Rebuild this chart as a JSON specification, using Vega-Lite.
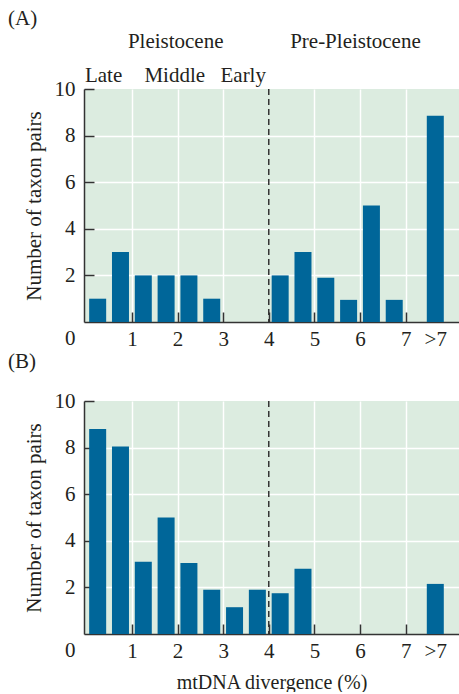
{
  "$schema": "https://vega.github.io/schema/vega-lite/v6.json",
  "background": "white",
  "padding": {"left": 8, "top": 8, "right": 0, "bottom": 0},
  "config": {
    "font": "Liberation Serif",
    "view": {"fill": "#dcece0", "stroke": null},
    "axis": {
      "labelFont": "Liberation Serif",
      "labelFontSize": 21,
      "labelColor": "#231f20",
      "titleFont": "Liberation Serif",
      "titleFontSize": 21,
      "titleFontWeight": "normal",
      "titleColor": "#231f20",
      "domainColor": "#333333",
      "domainWidth": 1.5,
      "tickColor": "#333333",
      "tickWidth": 1.5,
      "tickSize": -10,
      "gridColor": "white",
      "gridWidth": 1.5,
      "gridOpacity": 1
    },
    "title": {
      "font": "Liberation Serif",
      "fontSize": 21,
      "fontWeight": "normal",
      "color": "#231f20",
      "anchor": "start",
      "frame": "group",
      "baseline": "alphabetic"
    }
  },
  "datasets": {
    "panelA": [
      {"divergence": 0.25, "pairs": 1},
      {"divergence": 0.75, "pairs": 3},
      {"divergence": 1.25, "pairs": 2},
      {"divergence": 1.75, "pairs": 2},
      {"divergence": 2.25, "pairs": 2},
      {"divergence": 2.75, "pairs": 1},
      {"divergence": 4.25, "pairs": 2},
      {"divergence": 4.75, "pairs": 3},
      {"divergence": 5.25, "pairs": 1.9},
      {"divergence": 5.75, "pairs": 0.95},
      {"divergence": 6.25, "pairs": 5},
      {"divergence": 6.75, "pairs": 0.95},
      {"divergence": 7.65, "pairs": 8.85}
    ],
    "panelB": [
      {"divergence": 0.25, "pairs": 8.8},
      {"divergence": 0.75, "pairs": 8.05},
      {"divergence": 1.25, "pairs": 3.1},
      {"divergence": 1.75, "pairs": 5},
      {"divergence": 2.25, "pairs": 3.05},
      {"divergence": 2.75, "pairs": 1.9},
      {"divergence": 3.25, "pairs": 1.15},
      {"divergence": 3.75, "pairs": 1.9},
      {"divergence": 4.25, "pairs": 1.75},
      {"divergence": 4.75, "pairs": 2.8},
      {"divergence": 7.65, "pairs": 2.15}
    ],
    "eras": [
      {"label": "Pleistocene", "at": 1.96, "level": 11.75},
      {"label": "Pre-Pleistocene", "at": 5.9, "level": 11.75},
      {"label": "Late", "at": 0.38, "level": 10.32},
      {"label": "Middle", "at": 1.94, "level": 10.32},
      {"label": "Early", "at": 3.44, "level": 10.32}
    ]
  },
  "bounds": "flush",
  "spacing": 79,
  "vconcat": [
    {
      "title": {"text": "(A)", "dx": -76, "offset": 2},
      "width": 375,
      "height": 233,
      "layer": [
        {
          "data": {"name": "panelA"},
          "mark": {"type": "bar", "width": 17, "color": "#006699"},
          "encoding": {
            "x": {
              "field": "divergence",
              "type": "quantitative",
              "scale": {"domain": [0.06, 8.06], "nice": false, "zero": false},
              "axis": {
                "title": null,
                "values": [1, 2, 3, 4, 5, 6, 7, 7.65],
                "labelExpr": "datum.value > 7.5 ? '>7' : datum.label",
                "labelPadding": 16,
                "tickOpacity": {"condition": {"test": "datum.value > 7.5", "value": 0}, "value": 1},
                "gridOpacity": {"condition": {"test": "datum.value > 7.5 || datum.value == 4", "value": 0}, "value": 1}
              }
            },
            "y": {
              "field": "pairs",
              "type": "quantitative",
              "scale": {"domain": [0, 10], "nice": false},
              "axis": {
                "title": "Number of taxon pairs",
                "values": [0, 2, 4, 6, 8, 10],
                "labelPadding": 19,
                "titlePadding": 10,
                "labelOffset": {"condition": {"test": "datum.value == 0", "value": 16}, "value": 0},
                "tickOpacity": {"condition": {"test": "datum.value == 0", "value": 0}, "value": 1},
                "gridOpacity": {"condition": {"test": "datum.value == 0 || datum.value == 10", "value": 0}, "value": 1}
              }
            }
          }
        },
        {
          "data": {"values": [{}]},
          "mark": {"type": "rule", "color": "#333333", "strokeWidth": 1.5, "strokeDash": [6, 4]},
          "encoding": {"x": {"datum": 4}}
        },
        {
          "data": {"name": "eras"},
          "mark": {"type": "text", "fontSize": 21, "align": "center", "baseline": "alphabetic", "color": "#231f20", "font": "Liberation Serif"},
          "encoding": {
            "x": {"field": "at", "type": "quantitative"},
            "y": {"field": "level", "type": "quantitative"},
            "text": {"field": "label"}
          }
        }
      ]
    },
    {
      "title": {"text": "(B)", "dx": -76, "offset": 18},
      "width": 375,
      "height": 233,
      "layer": [
        {
          "data": {"name": "panelB"},
          "mark": {"type": "bar", "width": 17, "color": "#006699"},
          "encoding": {
            "x": {
              "field": "divergence",
              "type": "quantitative",
              "scale": {"domain": [0.06, 8.06], "nice": false, "zero": false},
              "axis": {
                "title": "mtDNA divergence (%)",
                "titleFontSize": 20,
                "values": [1, 2, 3, 4, 5, 6, 7, 7.65],
                "labelExpr": "datum.value > 7.5 ? '>7' : datum.label",
                "labelPadding": 16,
                "titlePadding": 11,
                "tickOpacity": {"condition": {"test": "datum.value > 7.5", "value": 0}, "value": 1},
                "gridOpacity": {"condition": {"test": "datum.value > 7.5 || datum.value == 4", "value": 0}, "value": 1}
              }
            },
            "y": {
              "field": "pairs",
              "type": "quantitative",
              "scale": {"domain": [0, 10], "nice": false},
              "axis": {
                "title": "Number of taxon pairs",
                "values": [0, 2, 4, 6, 8, 10],
                "labelPadding": 19,
                "titlePadding": 10,
                "labelOffset": {"condition": {"test": "datum.value == 0", "value": 16}, "value": 0},
                "tickOpacity": {"condition": {"test": "datum.value == 0", "value": 0}, "value": 1},
                "gridOpacity": {"condition": {"test": "datum.value == 0 || datum.value == 10", "value": 0}, "value": 1}
              }
            }
          }
        },
        {
          "data": {"values": [{}]},
          "mark": {"type": "rule", "color": "#333333", "strokeWidth": 1.5, "strokeDash": [6, 4]},
          "encoding": {"x": {"datum": 4}}
        }
      ]
    }
  ]
}
